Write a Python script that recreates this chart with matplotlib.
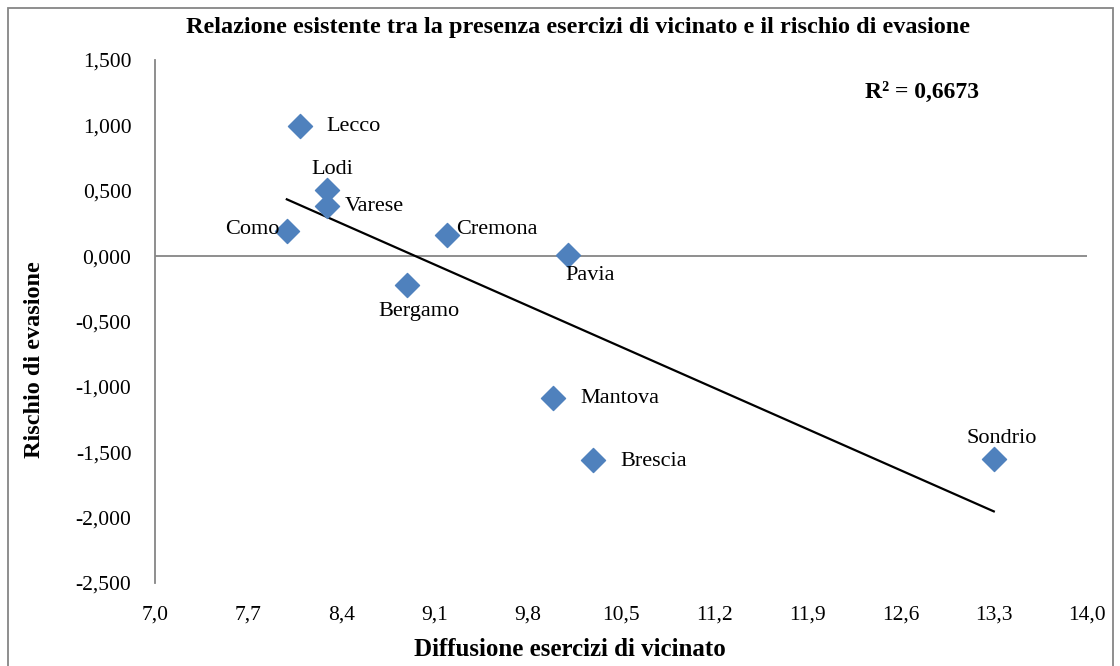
import numpy as np
import matplotlib
matplotlib.use("Agg")
import matplotlib.pyplot as plt
from matplotlib.patches import Rectangle
from matplotlib.ticker import FuncFormatter

provinces = ['Lecco', 'Lodi', 'Varese', 'Como', 'Cremona', 'Pavia',
             'Bergamo', 'Mantova', 'Brescia', 'Sondrio']
diffusione = [8.09, 8.29, 8.29, 7.99, 9.19, 10.10, 8.89, 9.99, 10.29, 13.30]
rischio = [0.995, 0.505, 0.383, 0.19, 0.16, 0.01, -0.222, -1.087, -1.562, -1.554]

# label placement: (dx, dy) in pixels, horizontal alignment
label_pos = {
    'Lecco': (26, 0, 'left'),
    'Lodi': (6, 21, 'center'),
    'Varese': (18, 0, 'left'),
    'Como': (-7, 2, 'right'),
    'Cremona': (10, 6, 'left'),
    'Pavia': (-2, -21, 'left'),
    'Bergamo': (12, -26, 'center'),
    'Mantova': (27, 0, 'left'),
    'Brescia': (27, -1, 'left'),
    'Sondrio': (8, 21, 'center'),
}

plt.rcParams['font.family'] = ['Liberation Serif', 'DejaVu Serif']

fig = plt.figure(figsize=(11.2, 6.66), dpi=100)
W, H = 1120, 666
ax = fig.add_axes([155 / W, 1 - 583 / H, (1087 - 155) / W, (583 - 60) / H])

# outer chart border
fig.patches.append(Rectangle((8 / W, -0.01), (1113 - 8) / W, 1 - 8 / H + 0.01,
                             transform=fig.transFigure, fill=False,
                             edgecolor='#868686', linewidth=1.3))

blue = '#4F81BD'
ax.scatter(diffusione, rischio, marker='D', s=150, color=blue, zorder=3)

# linear trendline over the data range
coef = np.polyfit(diffusione, rischio, 1)
xs = np.array([min(diffusione), max(diffusione)])
ax.plot(xs, np.polyval(coef, xs), color='black', linewidth=1.6, zorder=2)

for name, x, y in zip(provinces, diffusione, rischio):
    dx, dy, ha = label_pos[name]
    ax.annotate(name, (x, y), xytext=(dx, dy), textcoords='offset pixels',
                ha=ha, va='center', fontsize=16)

ax.set_xlim(7.0, 14.0)
ax.set_ylim(-2.5, 1.5)
ax.set_xticks(np.round(np.arange(7.0, 14.01, 0.7), 1))
ax.set_yticks(np.arange(-2.5, 1.51, 0.5))
ax.xaxis.set_major_formatter(FuncFormatter(lambda v, p: f'{v:.1f}'.replace('.', ',')))
ax.yaxis.set_major_formatter(FuncFormatter(lambda v, p: f'{v:.3f}'.replace('.', ',')))
ax.tick_params(axis='both', length=0, labelsize=15.5)
ax.tick_params(axis='x', pad=16)
ax.tick_params(axis='y', pad=17)

for s in ['top', 'right', 'bottom']:
    ax.spines[s].set_visible(False)
ax.spines['left'].set_color('#868686')
ax.spines['left'].set_linewidth(1.3)
ax.axhline(0, color='#868686', linewidth=1.3, zorder=1)

fig.text(578 / W, 1 - 27 / H, 'Relazione esistente tra la presenza esercizi di vicinato e il rischio di evasione',
         ha='center', va='center', fontsize=17.5, fontweight='bold')
fig.text(865 / W, 1 - 92 / H, 'R² = 0,6673', ha='left', va='center',
         fontsize=17, fontweight='bold')
fig.text(35 / W, 1 - 360 / H, 'Rischio di evasione', rotation=90,
         ha='center', va='center', fontsize=17.5, fontweight='bold')
fig.text(570 / W, 1 - 650 / H, 'Diffusione esercizi di vicinato',
         ha='center', va='center', fontsize=18, fontweight='bold')

fig.savefig('out.png', dpi=100)
